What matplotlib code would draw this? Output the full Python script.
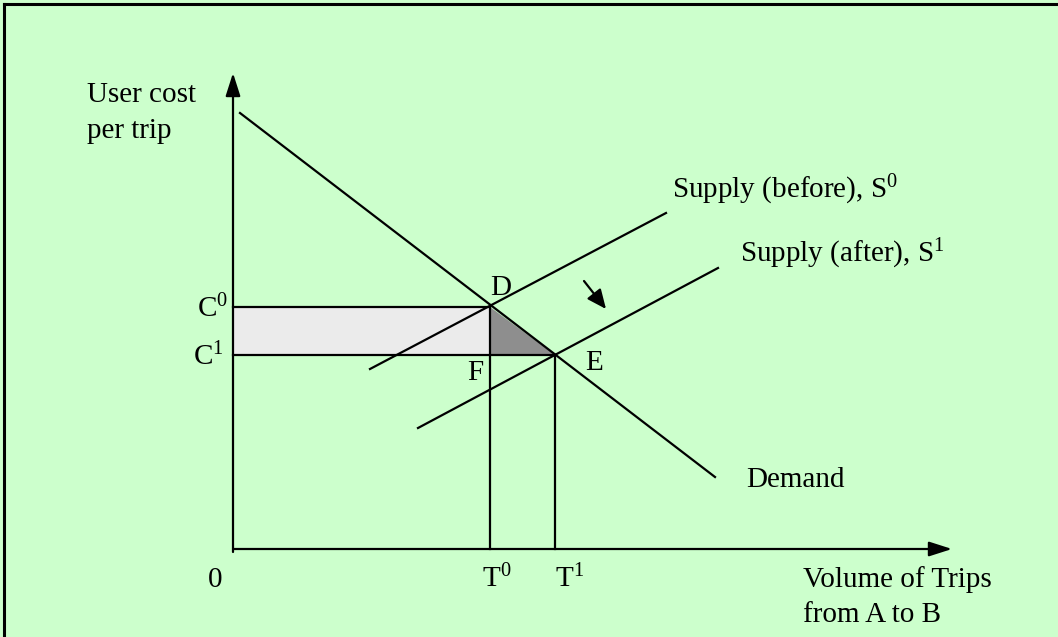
import matplotlib
matplotlib.use("Agg")
import matplotlib.pyplot as plt
from matplotlib.patches import Polygon

plt.rcParams['font.family'] = ['Liberation Serif', 'DejaVu Serif']
plt.rcParams['mathtext.fontset'] = 'custom'
plt.rcParams['mathtext.rm'] = 'Liberation Serif'
plt.rcParams['mathtext.it'] = 'Liberation Serif'

# diagram values (arbitrary units, origin at 0,0)
x_max, y_max = 719, 476
demand_x = [7, 482]
demand_y = [436, 72]
supply0_x = [137, 433]
supply0_y = [180, 336]
supply1_x = [185, 485]
supply1_y = [121, 281]
T0, T1 = 257, 322
C0, C1 = 242, 194

fig = plt.figure(figsize=(10.58, 6.37), dpi=100, facecolor='#ccffcc')
ax = fig.add_axes([0, 0, 1, 1])
ax.set_xlim(-233, 825)
ax.set_ylim(-88, 549)
ax.set_facecolor('#ccffcc')
ax.set_axis_off()

lw = 1.6
# outer frame (top and left visible)
ax.plot([-229, -229], [-100, 545], color='k', lw=2.2, solid_capstyle='projecting')
ax.plot([-229, 900], [545, 545], color='k', lw=2.2, solid_capstyle='projecting')

# shaded areas
ax.add_patch(Polygon([[0, C1], [T0, C1], [T0, C0], [0, C0]], closed=True,
                     facecolor='#ebebeb', edgecolor='none', zorder=1))
ax.add_patch(Polygon([[T0, C0], [T0, C1], [T1, C1]], closed=True,
                     facecolor='#8e8e8e', edgecolor='none', zorder=1))

# axes with arrows
arrow = dict(arrowstyle='-|>,head_length=1.0,head_width=0.32', lw=lw, color='k',
             shrinkA=0, shrinkB=0, mutation_scale=14)
ax.annotate('', xy=(0, y_max), xytext=(0, -3), arrowprops=arrow)
ax.annotate('', xy=(x_max, 0), xytext=(0, 0), arrowprops=arrow)

# curves
ax.plot(demand_x, demand_y, color='k', lw=lw, zorder=3)
ax.plot(supply0_x, supply0_y, color='k', lw=lw, zorder=3)
ax.plot(supply1_x, supply1_y, color='k', lw=lw, zorder=3)

# reference lines
ax.plot([0, T0], [C0, C0], color='k', lw=lw, zorder=3)
ax.plot([0, T1], [C1, C1], color='k', lw=lw, zorder=3)
ax.plot([T0, T0], [0, C0], color='k', lw=lw, zorder=3)
ax.plot([T1, T1], [0, C1], color='k', lw=lw, zorder=3)

# shift arrow
ax.annotate('', xy=(373, 240), xytext=(351, 268),
            arrowprops=dict(arrowstyle='-|>,head_length=0.9,head_width=0.4', lw=lw,
                            color='k', shrinkA=0, shrinkB=0, mutation_scale=13))

fs = 21
txt = dict(fontsize=fs, ha='left', va='baseline', color='k')
ax.text(-146, 447, 'User cost', **txt)
ax.text(-146, 411, 'per trip', **txt)
ax.text(439, 351, r'Supply (before), S$^{0}$', **txt)
ax.text(507, 287, r'Supply (after), S$^{1}$', **txt)
ax.text(513, 62, 'Demand', **txt)
ax.text(257, 254, 'D', **txt)
ax.text(-36, 232, r'C$^{0}$', **txt)
ax.text(-40, 184, r'C$^{1}$', **txt)
ax.text(234, 169, 'F', **txt)
ax.text(352, 179, 'E', **txt)
ax.text(-25, -38, '0', **txt)
ax.text(249, -38, r'T$^{0}$', **txt)
ax.text(322, -38, r'T$^{1}$', **txt)
ax.text(570, -38, 'Volume of Trips', **txt)
ax.text(570, -73, 'from A to B', **txt)

fig.savefig('out.png', dpi=100, facecolor=fig.get_facecolor())
